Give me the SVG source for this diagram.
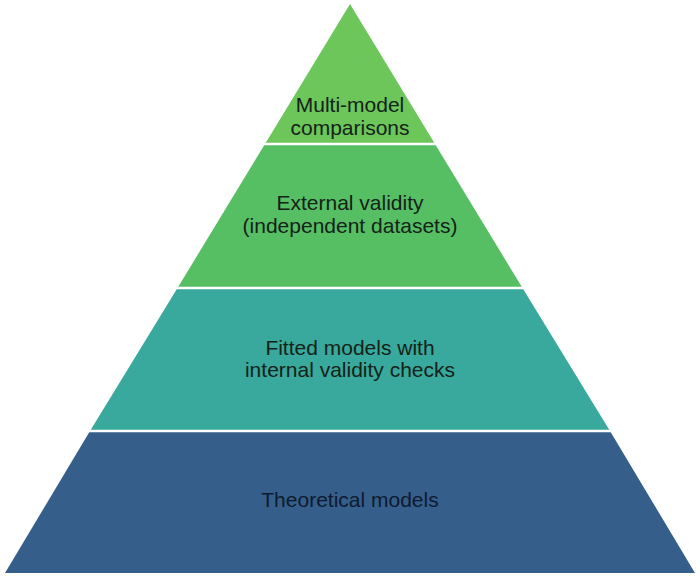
<svg xmlns="http://www.w3.org/2000/svg" width="700" height="577" viewBox="0 0 700 577">
<style>
.t{font-family:"Liberation Sans",Arial,sans-serif;font-size:21px;text-anchor:middle;fill:#142218}
.sep{stroke:#ffffff;stroke-width:2.5}
</style>
<rect width="700" height="577" fill="#ffffff"/>
<g id="layer1">
<polygon points="350,4 265,144 435,144" fill="#6cc65a"/>
<text class="t" x="350" y="112">Multi-model</text>
<text class="t" x="350" y="135">comparisons</text>
</g>
<g id="layer2">
<polygon points="265,144 435,144 522.5,288 177.5,288" fill="#56bf64"/>
<text class="t" x="350" y="210">External validity</text>
<text class="t" x="350" y="233">(independent datasets)</text>
</g>
<g id="layer3">
<polygon points="177.5,288 522.5,288 610,431 90,431" fill="#38a99c"/>
<text class="t" x="350" y="355">Fitted models with</text>
<text class="t" x="350" y="377">internal validity checks</text>
</g>
<g id="layer4">
<polygon points="90,431 610,431 695,573 5,573" fill="#355f8a"/>
<text class="t" x="350" y="507" fill="#0e1a30" style="fill:#0e1a30">Theoretical models</text>
</g>
<g id="connectors">
<line class="sep" x1="250" y1="144" x2="450" y2="144"/>
<line class="sep" x1="160" y1="288" x2="540" y2="288"/>
<line class="sep" x1="70" y1="431" x2="630" y2="431"/>
</g>
</svg>
